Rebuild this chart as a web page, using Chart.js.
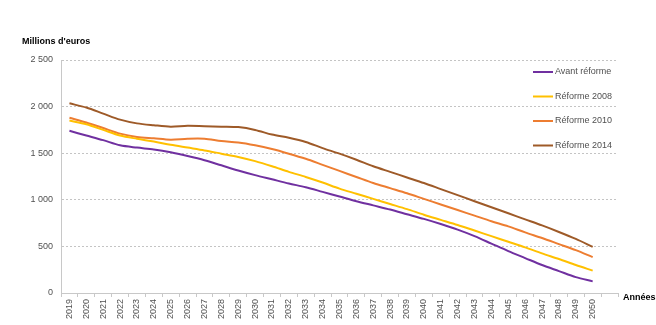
<!DOCTYPE html>
<html>
<head>
<meta charset="utf-8">
<script src="https://cdn.jsdelivr.net/npm/chart.js@4/dist/chart.umd.min.js"></script>
<style>
  html, body { margin: 0; padding: 0; background: #fff; }
  #wrap { position: relative; width: 656px; height: 325px; }
</style>
</head>
<body>
<div id="wrap"><canvas id="pensionChart" width="656" height="325"></canvas></div>
<script>
const years = [
  "2019", "2020", "2021", "2022", "2023", "2024", "2025", "2026", "2027", "2028",
  "2029", "2030", "2031", "2032", "2033", "2034", "2035", "2036", "2037", "2038",
  "2039", "2040", "2041", "2042", "2043", "2044", "2045", "2046", "2047", "2048",
  "2049", "2050", ""
];

const avantReforme = [
  1740, 1690, 1640, 1585, 1560, 1540, 1510, 1470, 1425, 1370,
  1315, 1265, 1220, 1175, 1135, 1085, 1035, 985, 940, 895,
  845, 795, 740, 680, 610, 530, 450, 375, 300, 235, 170, 125
];
const reforme2008 = [
  1850, 1810, 1750, 1690, 1655, 1625, 1590, 1560, 1530, 1495,
  1460, 1415, 1360, 1300, 1245, 1185, 1120, 1065, 1010, 955,
  900, 840, 785, 730, 670, 610, 550, 490, 425, 365, 300, 240
];
const reforme2010 = [
  1880, 1830, 1770, 1710, 1675, 1660, 1645, 1655, 1655, 1630,
  1615, 1585, 1545, 1495, 1440, 1375, 1310, 1245, 1180, 1125,
  1070, 1010, 950, 890, 830, 770, 715, 650, 590, 525, 460, 385
];
const reforme2014 = [
  2035, 1990, 1925, 1860, 1820, 1800, 1785, 1795, 1790, 1785,
  1780, 1750, 1700, 1665, 1620, 1555, 1495, 1430, 1360, 1300,
  1240, 1180, 1115, 1050, 985, 920, 855, 790, 725, 655, 580, 495
];

const seriesNames = ["Avant réforme", "Réforme 2008", "Réforme 2010", "Réforme 2014"];
const seriesColors = ["#7030A0", "#FFC000", "#ED7D31", "#9E5A28"];

const FONT = "'Liberation Sans', Arial, sans-serif";
const TEXT = "#505050";

function makeSet(i, values) {
  return {
    label: seriesNames[i],
    data: values,
    borderColor: seriesColors[i],
    backgroundColor: seriesColors[i],
    borderWidth: 2,
    pointRadius: 0,
    tension: 0.3,
    fill: false
  };
}

// legend + axis captions drawn on top of the plot
const extras = {
  id: "extras",
  afterDraw(chart) {
    const ctx = chart.ctx;
    ctx.save();
    ctx.font = "bold 9px " + FONT;
    ctx.fillStyle = "#000";
    ctx.textBaseline = "middle";
    ctx.textAlign = "left";
    ctx.fillText("Millions d'euros", 22, 42);
    ctx.fillText("Années", 623, 298);

    ctx.font = "9px " + FONT;
    ctx.fillStyle = TEXT;
    chart.data.datasets.forEach((ds, i) => {
      const y = 72 + i * 24.5;
      ctx.strokeStyle = ds.borderColor;
      ctx.lineWidth = 2;
      ctx.beginPath();
      ctx.moveTo(533, y);
      ctx.lineTo(553, y);
      ctx.stroke();
      ctx.fillText(ds.label, 555, y);
    });
    ctx.restore();
  }
};

new Chart(document.getElementById("pensionChart"), {
  type: "line",
  data: {
    labels: years,
    datasets: [
      makeSet(0, avantReforme),
      makeSet(1, reforme2008),
      makeSet(2, reforme2010),
      makeSet(3, reforme2014)
    ]
  },
  options: {
    responsive: false,
    animation: false,
    layout: { padding: { top: 60, right: 38, left: 0, bottom: 0 } },
    plugins: {
      legend: { display: false },
      tooltip: { enabled: false }
    },
    scales: {
      x: {
        offset: true,
        grid: {
          offset: true,
          drawOnChartArea: false,
          drawTicks: true,
          tickLength: 4,
          color: "#c8c8c8"
        },
        border: { color: "#c8c8c8" },
        ticks: {
          autoSkip: false,
          minRotation: 90,
          maxRotation: 90,
          padding: 2,
          color: TEXT,
          font: { family: FONT, size: 9 }
        },
        afterFit(scale) { scale.height = 32; }
      },
      y: {
        min: 0,
        max: 2500,
        ticks: {
          stepSize: 500,
          padding: 8,
          color: TEXT,
          font: { family: FONT, size: 9 },
          callback: v => String(v).replace(/\B(?=(\d{3})+(?!\d))/g, " ")
        },
        grid: {
          color: "#c4c4c4",
          drawTicks: false
        },
        border: { color: "#c8c8c8", dash: [2, 2] },
        afterFit(scale) { scale.width = 61; }
      }
    }
  },
  plugins: [extras]
});
</script>
</body>
</html>
